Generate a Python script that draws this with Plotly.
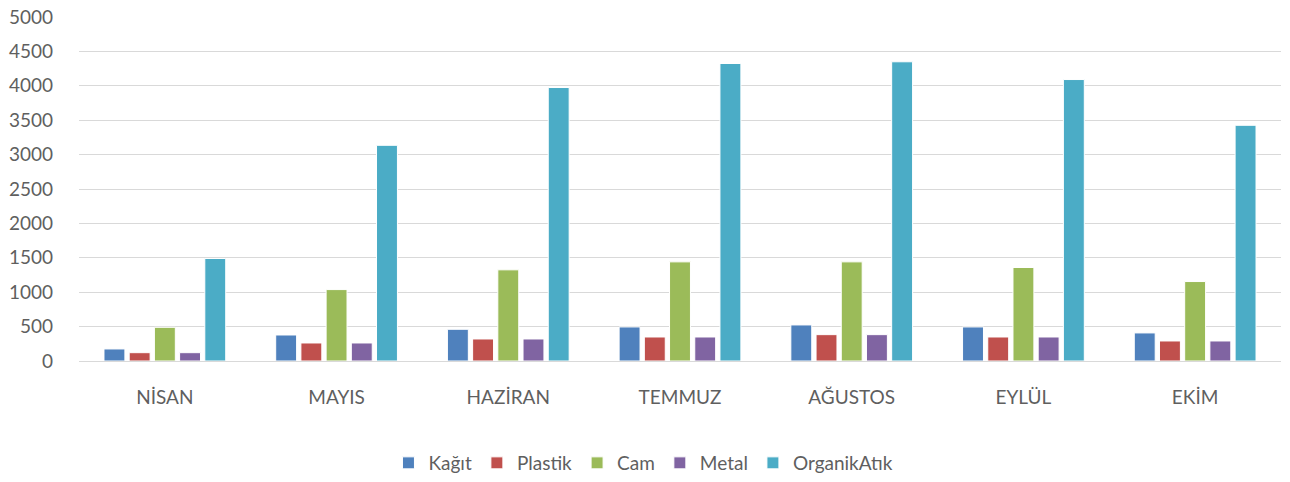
import plotly.graph_objects as go

months = ["NİSAN", "MAYIS", "HAZİRAN", "TEMMUZ", "AĞUSTOS", "EYLÜL", "EKİM"]
kagit = [175, 378, 461, 495, 524, 495, 408]
plastik = [121, 262, 320, 349, 383, 349, 291]
cam = [490, 1038, 1325, 1441, 1441, 1359, 1155]
metal = [121, 262, 320, 349, 383, 349, 291]
organik = [1490, 3135, 3975, 4324, 4349, 4091, 3426]
y_ticks = [0, 500, 1000, 1500, 2000, 2500, 3000, 3500, 4000, 4500, 5000]

series = [
    ("Kağıt", kagit, "#4F81BD"),
    ("Plastik", plastik, "#C0504D"),
    ("Cam", cam, "#9BBB59"),
    ("Metal", metal, "#8064A2"),
    ("OrganikAtık", organik, "#4BACC6"),
]

fig = go.Figure()
for name, vals, col in series:
    fig.add_trace(go.Bar(
        x=months, y=vals, name=name,
        marker=dict(color=col, line=dict(color="white", width=1)),
    ))

font_family = "Lato, 'Open Sans', sans-serif"
fig.update_layout(
    width=1290, height=482,
    margin=dict(l=79, r=9, t=17, b=121, autoexpand=False),
    paper_bgcolor="white", plot_bgcolor="white",
    barmode="group", bargap=0.266, bargroupgap=0.17,
    font=dict(family=font_family, color="#5f5f5f", size=19),
    showlegend=True,
    legend=dict(orientation="h", x=0.4696, xanchor="center", y=-0.2965, yanchor="middle",
                font=dict(size=19, color="#5f5f5f"),
                traceorder="normal", itemwidth=30, tracegroupgap=0),
    xaxis=dict(showgrid=False, showline=True, linecolor="#d9d9d9", linewidth=1,
               tickfont=dict(size=19), ticklabelstandoff=19, automargin=False),
    yaxis=dict(range=[0, 5000], tickvals=y_ticks, showgrid=True, gridcolor="#d9d9d9",
               gridwidth=1, zeroline=False, showline=False, tickfont=dict(size=19),
               ticklabelstandoff=25, automargin=False),
)

fig.write_html("out.html",
               config={"displayModeBar": False},
               post_script="document.body.style.margin='0';document.body.style.overflow='hidden';")
